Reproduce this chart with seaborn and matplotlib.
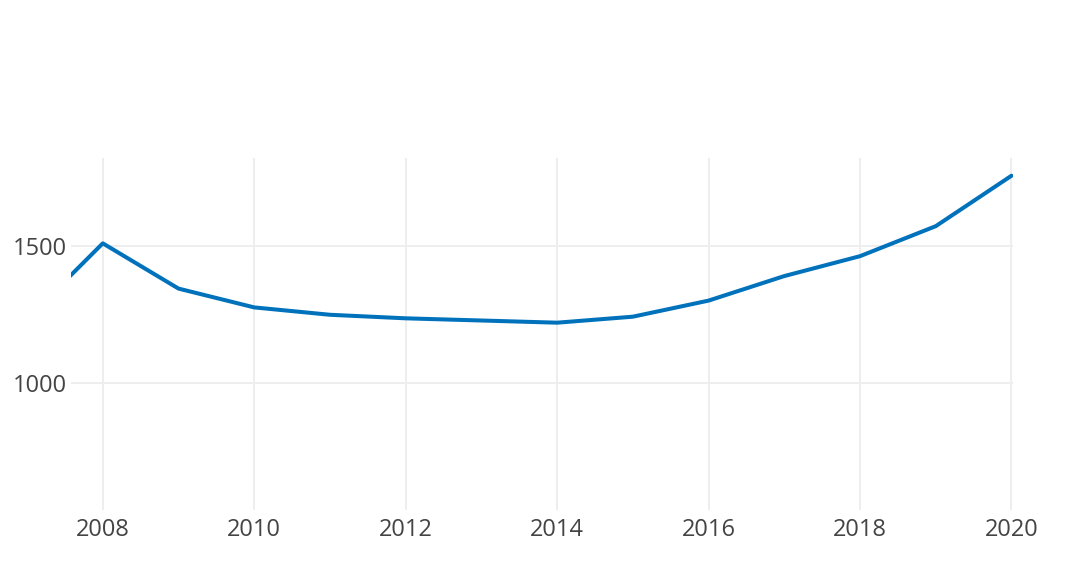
import matplotlib
matplotlib.use("Agg")
import matplotlib.pyplot as plt
import seaborn as sns
import pandas as pd

# Werte
years = [2007, 2008, 2009, 2010, 2011, 2012, 2013, 2014, 2015, 2016, 2017, 2018, 2019, 2020]
values = [1234, 1511, 1345, 1276, 1249, 1236, 1228, 1220, 1242, 1301, 1391, 1464, 1574, 1759]
x_ticks = [2008, 2010, 2012, 2014, 2016, 2018, 2020]
y_ticks = [1000, 1500]

df = pd.DataFrame({"year": years, "value": values})

sns.set_style("white")
plt.rcParams["font.family"] = ["Open Sans", "DejaVu Sans"]

fig = plt.figure(figsize=(10.67, 5.61), dpi=100)
ax = fig.add_axes([71 / 1067, 1 - 510 / 561, (1013 - 71) / 1067, (510 - 158) / 561])

sns.lineplot(data=df, x="year", y="value", ax=ax, color="#0072bc", linewidth=2.9, zorder=3)

ax.set_xlim(2007.58, 2020.02)
ax.set_ylim(533, 1824)
ax.set_xticks(x_ticks)
ax.set_yticks(y_ticks)
ax.set_xticklabels([str(t) for t in x_ticks])
ax.set_yticklabels([str(t) for t in y_ticks])
ax.grid(True, color="#eeeeee", linewidth=1.4)
ax.set_axisbelow(True)
for s in ax.spines.values():
    s.set_visible(False)
ax.tick_params(axis="both", length=0, labelsize=17, labelcolor="#444444")
ax.tick_params(axis="x", pad=6)
ax.tick_params(axis="y", pad=3)
ax.set_xlabel("")
ax.set_ylabel("")

fig.savefig("out.png", dpi=100)
